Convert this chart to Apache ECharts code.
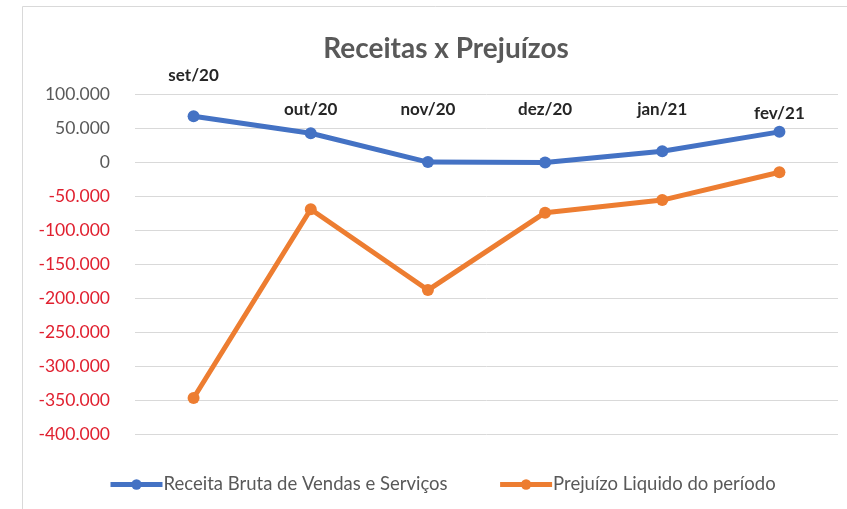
<!DOCTYPE html>
<html>
<head>
<meta charset="utf-8">
<script src="https://cdn.jsdelivr.net/npm/echarts@6/dist/echarts.min.js"></script>
<style>
	html, body { margin: 0; padding: 0; background: #fff; }
	#main { width: 847px; height: 509px; }
</style>
</head>
<body>
<div id="main"></div>
<script>
// meses
var meses = ['set/20', 'out/20', 'nov/20', 'dez/20', 'jan/21', 'fev/21'];
// receita bruta de vendas e serviços
var receita = [68000, 43000, 500, 0, 16500, 45000];
// prejuízo líquido do período
var prejuizo = [-347000, -69000, -188000, -74000, -55500, -14500];

var yMin = -400000;
var yMax = 100000;
var yStep = 50000;

/**
 * formata numero no padrao brasileiro (100.000)
 */
function fmt(v) {
	var s = String(Math.abs(v)).replace(/\B(?=(\d{3})+(?!\d))/g, '.');
	return (v < 0 ? '-' : '') + s;
}

var fonte = 'Lato, "Open Sans", sans-serif';

var option = {
	animation: false,
	textStyle: { fontFamily: fonte },
	title: {
		text: 'Receitas x Prejuízos',
		left: 441,
		textAlign: 'center',
		top: 30,
		textStyle: {
			fontFamily: fonte,
			fontSize: 28,
			fontWeight: 'bold',
			color: '#595959'
		}
	},
	graphic: [{
		type: 'rect',
		shape: { x: 22.5, y: 6.5, width: 900, height: 600 },
		style: { fill: 'none', stroke: '#d9d9d9', lineWidth: 1 },
		silent: true
	}],
	legend: {
		left: 103,
		top: 470,
		itemWidth: 52,
		itemHeight: 13,
		itemGap: 50,
		lineStyle: { width: 5 },
		textStyle: { color: '#595959', fontSize: 18.5, fontFamily: fonte, padding: [0, 0, 0, -4] },
		data: ['Receita Bruta de Vendas e Serviços', 'Prejuízo Liquido do período']
	},
	grid: { left: 135, right: 9, top: 94.5, bottom: 75 },
	xAxis: {
		type: 'category',
		position: 'top',
		data: meses,
		axisLine: { show: false },
		axisTick: { show: false },
		axisLabel: {
			margin: -28,
			formatter: function(v, i) {
				if (i === 0) return '{alto|' + v + '}';
				if (i === meses.length - 1) return '{baixo|' + v + '}';
				return '{meio|' + v + '}';
			},
			rich: {
				alto: { fontSize: 17, fontWeight: 'bold', color: '#262626', fontFamily: fonte, padding: [0, 0, 38, 0] },
				meio: { fontSize: 17, fontWeight: 'bold', color: '#262626', fontFamily: fonte, padding: [0, 0, 4, 0] },
				baixo: { fontSize: 17, fontWeight: 'bold', color: '#262626', fontFamily: fonte, padding: [0, 0, 0, 0] }
			}
		}
	},
	yAxis: {
		type: 'value',
		min: yMin,
		max: yMax,
		interval: yStep,
		axisLine: { show: false },
		axisTick: { show: false },
		splitLine: { lineStyle: { color: '#d9d9d9', width: 1 } },
		axisLabel: {
			margin: 25,
			formatter: function(v) {
				return v < 0 ? '{neg|' + fmt(v) + '}' : '{pos|' + fmt(v) + '}';
			},
			rich: {
				neg: { color: '#e0202f', fontSize: 17.5, fontFamily: fonte },
				pos: { color: '#595959', fontSize: 17.5, fontFamily: fonte }
			}
		}
	},
	series: [{
		name: 'Receita Bruta de Vendas e Serviços',
		type: 'line',
		data: receita,
		symbol: 'circle',
		symbolSize: 12,
		itemStyle: { color: '#4472c4' },
		lineStyle: { color: '#4472c4', width: 5 }
	}, {
		name: 'Prejuízo Liquido do período',
		type: 'line',
		data: prejuizo,
		symbol: 'circle',
		symbolSize: 12,
		itemStyle: { color: '#ed7d31' },
		lineStyle: { color: '#ed7d31', width: 5 }
	}]
};

var myChart = echarts.init(document.getElementById('main'));
myChart.setOption(option);
</script>
</body>
</html>
